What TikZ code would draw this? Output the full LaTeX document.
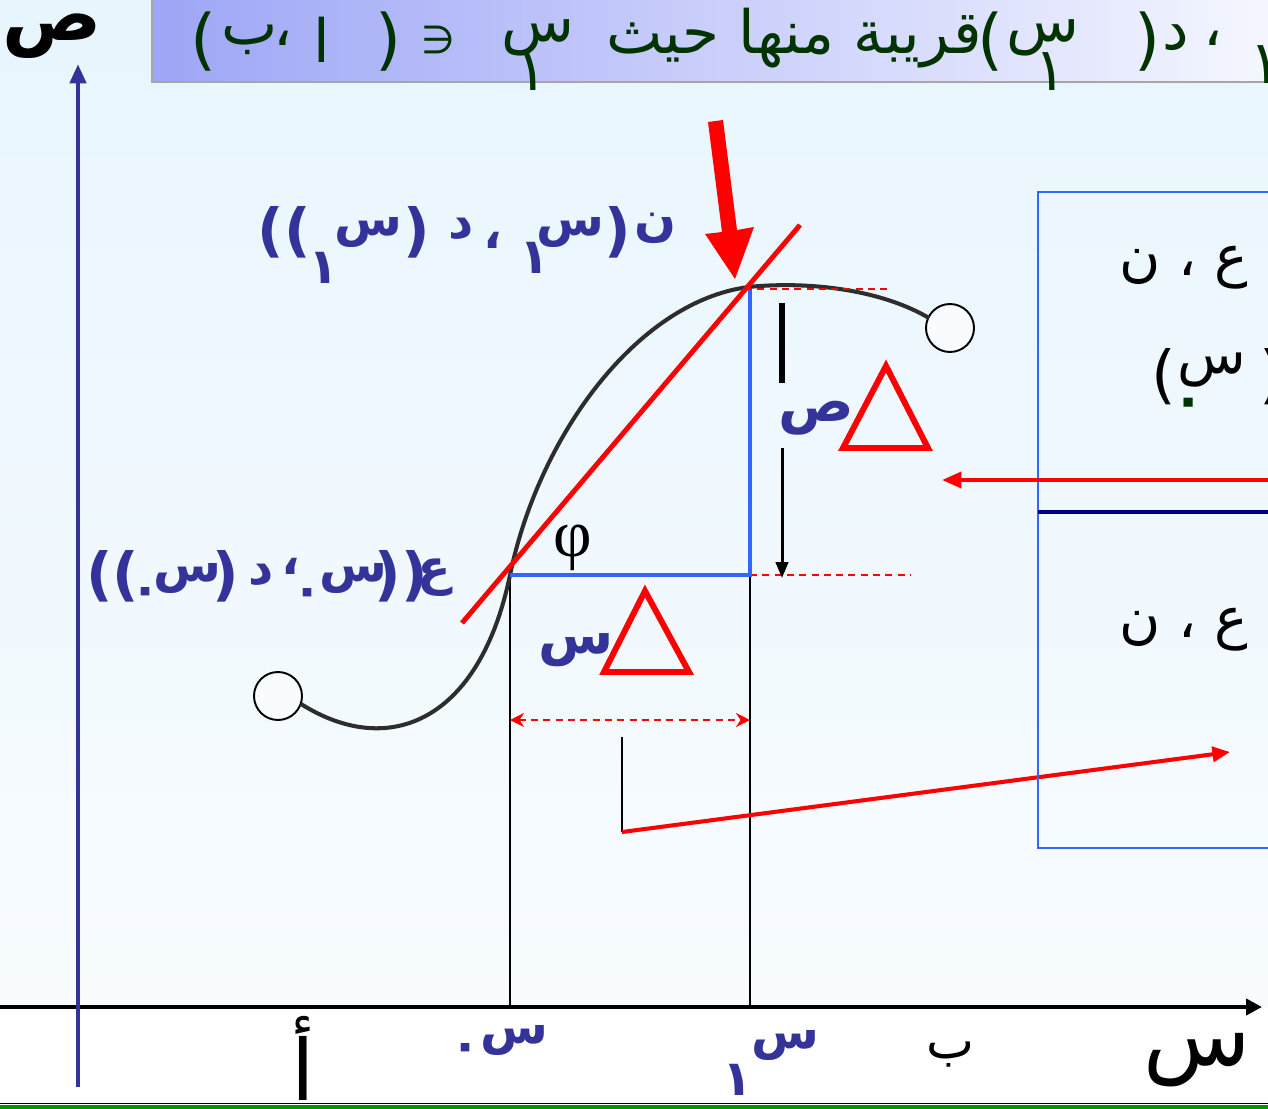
\documentclass[tikz,border=0pt]{standalone}
\usepackage{fontspec}
\usetikzlibrary{arrows.meta,shapes.geometric}
\TeXXeTstate=1
\newfontfamily\arf[Script=Arabic]{DejaVu Sans}
\newfontfamily\latf{DejaVu Sans}
\newfontfamily\serf{Liberation Serif}
\newcommand\AR[1]{\beginR #1\endR}
\newcommand\fs[1]{\fontsize{#1}{#1}\selectfont}
\definecolor{lblue}{RGB}{51,51,153}
\definecolor{bgtop}{RGB}{232,245,253}
\definecolor{bgbot}{RGB}{248,252,255}
\definecolor{bnL}{RGB}{158,166,246}
\definecolor{bnR}{RGB}{244,246,255}
\definecolor{dgreen}{RGB}{0,51,0}
\definecolor{rectblue}{RGB}{51,102,255}
\definecolor{navy}{RGB}{0,0,128}
\definecolor{cred}{RGB}{255,0,0}
\definecolor{gline}{RGB}{0,153,0}
\definecolor{curvec}{RGB}{45,45,45}
\tikzset{
  ar/.style={inner sep=0pt, outer sep=0pt, font=\arf},
  bn/.style={ar, text=dgreen, font=\arf\fs{34pt}},
  bnp/.style={ar, text=dgreen, font=\latf\fs{38pt}},
  lb/.style={ar, text=lblue, font=\arf\bfseries\fs{28pt}},
  lbp/.style={ar, text=lblue, font=\latf\bfseries\fs{33pt}},
  bx/.style={ar, text=black, font=\arf\fs{32pt}},
  bxp/.style={ar, text=black, font=\latf\fs{36pt}},
  redthick/.style={cred, line width=2.8pt},
  redarrow/.style={cred, line width=2.3pt, -{Triangle[length=10pt,width=8.5pt]}},
  reddash/.style={cred, line width=1.1pt, dash pattern=on 4pt off 3pt},
  thinblack/.style={black, line width=1.1pt},
  endcircle/.style={circle, draw=black, line width=1.1pt, fill=bgbot, minimum size=0.96cm, inner sep=0pt},
  deltatri/.style={cred, line width=3.4pt, line join=miter},
}
\begin{document}
\begin{tikzpicture}[x=0.02cm,y=-0.02cm]
\useasboundingbox (0,0) rectangle (1268,1109);
\clip (0,0) rectangle (1268,1109);
% background
\fill[white] (0,0) rectangle (1268,1109);
\shade[top color=bgtop,bottom color=bgbot] (0,0) rectangle (1268,1007);
% banner
\shade[left color=bnL,right color=bnR] (152,0) rectangle (1268,82);
\draw[gray!70,line width=1.2pt] (152,0) -- (152,82) -- (1268,82);
% bottom band
\fill[gline] (0,1105) rectangle (1268,1109);
\draw[black,line width=1.1pt] (0,1103.5) -- (1268,1103.5);

% axes
\coordinate (xs) at (0,1007); \coordinate (xe) at (1262,1007);
\draw[black,line width=2.3pt,-{Triangle[length=9pt,width=9pt]}] (xs) -- (xe);
\coordinate (ys) at (78,1087); \coordinate (ye) at (78,64);
\draw[lblue,line width=2.8pt,-{Triangle[length=11pt,width=9pt]}] (ys) -- (ye);
\node[ar,font=\arf\bfseries\fs{42pt}] (ylab) at (52,36) {\AR{ص}};
\node[ar,font=\arf\fs{50pt}] (xlab) at (1197,1060) {\AR{س}};
\node[ar,font=\arf\fs{48pt}] (alab) at (303,1058) {\AR{أ}};
\node[ar,font=\arf\fs{29pt}] (blab) at (950,1055) {\AR{ب}};
\node[lb] (x0s) at (514,1040) {\AR{س}};
\node[lb] (x0d) at (466,1052) {\AR{٠}};
\node[lb] (x1s) at (785,1045) {\AR{س}};
\node[lb] (x1d) at (738,1080) {\AR{١}};

% banner text
\node[bnp] (b1) at (204,42) {(};
\node[bn] (b2) at (250,40) {\AR{ب}};
\node[bn] (b3) at (283,38) {\AR{،}};
\node[bn] (b4) at (322,40) {\AR{ا}};
\node[bnp] (b5) at (389,42) {)};
\node[ar,text=dgreen,font=\latf\fs{22pt}] (b6) at (438,40) {∋};
\node[bn] (b7) at (538,38) {\AR{س}};
\node[bn,font=\arf\fs{34pt}] (b8) at (532,72) {\AR{١}};
\node[bn] (b9) at (794,38) {\AR{قريبة منها حيث}};
\node[bnp] (b10) at (991,42) {(};
\node[bn] (b11) at (1043,38) {\AR{س}};
\node[bn,font=\arf\fs{34pt}] (b12) at (1051,72) {\AR{١}};
\node[bnp] (b13) at (1148,42) {)};
\node[bn] (b14) at (1176,38) {\AR{د}};
\node[bn] (b15) at (1213,38) {\AR{،}};
\node[bn,font=\arf\fs{34pt}] (b16) at (1266,65) {\AR{١}};

% vertical guide lines
\coordinate (p0) at (510,575); \coordinate (p1) at (750,290);
\coordinate (c0) at (750,575);
\coordinate (p0b) at (510,1007); \coordinate (p1b) at (750,1007);
\draw[thinblack] (p0) -- (p0b);
\draw[thinblack] (c0) -- (p1b);
% dashed red level lines
\coordinate (d1e) at (910,575); \coordinate (d2s) at (745,289); \coordinate (d2e) at (892,289);
\draw[reddash] (c0) -- (d1e);

% curve
\node[endcircle] (ca) at (278,696) {};
\node[endcircle] (cb) at (950,328) {};
\coordinate (cv0) at (301,704); \coordinate (cv1) at (510,575);
\coordinate (cv2) at (760,286); \coordinate (cv3) at (929,318);
\draw[curvec,line width=2.3pt] (cv0) .. controls (390,760) and (480,720) .. (cv1)
   .. controls (540,430) and (645,292) .. (cv2)
   .. controls (820,282) and (885,292) .. (cv3);
\draw[reddash] (d2s) -- (d2e);

% blue rectangle legs
\draw[rectblue,line width=2.8pt] (p0) -- (c0) -- (p1);

% tangent
\coordinate (t0) at (462,623); \coordinate (t1) at (800,225);
\draw[redthick] (t0) -- (t1);

% big red arrow
\fill[cred] (708,122) -- (723,120) -- (737,230) -- (754,227) -- (735,279) -- (705,234) -- (722,232) -- cycle;

% delta y arrow
\coordinate (dy0) at (782,303); \coordinate (dy1) at (782,383);
\coordinate (dy2) at (782,448); \coordinate (dy3) at (782,578);
\draw[black,line width=3.2pt] (dy0) -- (dy1);
\draw[black,line width=1.7pt,-{Triangle[length=9pt,width=7pt]}] (dy2) -- (dy3);

% delta triangles
\draw[deltatri] (843,448) -- (928,448) -- (886,366) -- cycle;
\draw[deltatri] (604,672) -- (689,672) -- (645,591) -- cycle;
\node[lb,font=\arf\bfseries\fs{32pt}] (dyl) at (816,418) {\AR{ص}};
\node[lb,font=\arf\bfseries\fs{31pt}] (dxl) at (576,650) {\AR{س}};
\node[inner sep=0pt,font=\serf\fs{38pt}] (phi) at (573,548) {φ};

% delta x dashed double arrow
\coordinate (dx0) at (510,720); \coordinate (dx1) at (750,720);
\draw[reddash,{Stealth[length=8pt,width=8pt]}-{Stealth[length=8pt,width=8pt]}] (dx0) -- (dx1);

% pointer line
\coordinate (k0) at (622,737); \coordinate (k1) at (622,832); \coordinate (k2) at (1230,752);
\draw[thinblack] (k0) -- (k1);
\draw[redarrow] (k1) -- (k2);

% right box
\draw[rectblue,line width=0.85pt] (1038,192) rectangle (1290,848);
\coordinate (nv0) at (1038,512); \coordinate (nv1) at (1268,512);
\draw[navy,line width=2.3pt] (nv0) -- (nv1);
\coordinate (h0) at (1268,480); \coordinate (h1) at (942,480);
\draw[redarrow,-{Triangle[length=11pt,width=9pt]}] (h0) -- (h1);
\node[bx] (e1) at (1184,268) {\AR{ع ، ن}};
\node[bxp] (e2p) at (1164,377) {(};
\node[bx] (e2s) at (1212,370) {\AR{س}};
\node[ar,text=dgreen,font=\arf\bfseries\fs{30pt}] (e2d) at (1189,408) {\AR{٠}};
\node[bxp] (e2q) at (1272,377) {)};
\node[bx] (e3) at (1184,630) {\AR{ع ، ن}};

% label N
\node[lbp] (n1) at (284,232) {((};
\node[lb] (n2) at (324,268) {\AR{١}};
\node[lb] (n3) at (368,232) {\AR{س}};
\node[lbp] (n4) at (417,232) {)};
\node[lb] (n5) at (461,229) {\AR{د}};
\node[lb] (n6) at (493,240) {\AR{،}};
\node[lb] (n7) at (535,258) {\AR{١}};
\node[lb] (n8) at (570,232) {\AR{س}};
\node[lbp] (n9) at (618,232) {)};
\node[lb] (n10) at (655,228) {\AR{ن}};

% label E
\node[lbp] (m1) at (113,576) {((};
\node[lb] (m2) at (146,596) {\AR{٠}};
\node[lb] (m3) at (187,578) {\AR{س}};
\node[lbp] (m4) at (226,576) {)};
\node[lb] (m5) at (261,575) {\AR{د}};
\node[lb] (m6) at (291,566) {\AR{،}};
\node[lb] (m8) at (308,597) {\AR{٠}};
\node[lb] (m7) at (353,578) {\AR{س}};
\node[lbp] (m9) at (401,576) {))};
\node[lb] (m10) at (434,578) {\AR{ع}};
\end{tikzpicture}
\end{document}
